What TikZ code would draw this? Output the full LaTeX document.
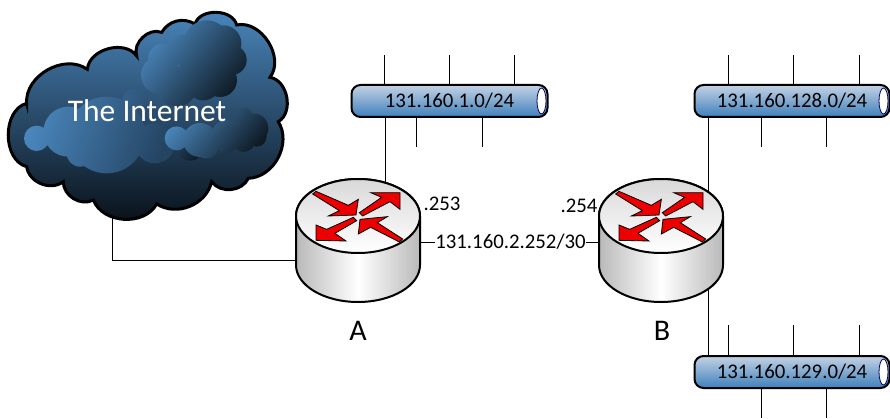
\documentclass[tikz,border=0pt]{standalone}
\usepackage{fontspec}
\setmainfont{Carlito}
\definecolor{cloudblue}{RGB}{74,134,188}
\definecolor{clouddark}{RGB}{8,15,22}
\definecolor{puffdark}{RGB}{14,26,36}
\definecolor{pufffade}{RGB}{36,68,98}
\definecolor{bustop}{RGB}{196,210,228}
\definecolor{busbot}{RGB}{62,128,188}
\definecolor{arrowred}{RGB}{236,0,0}

\newcommand{\routerdraw}[1]{
  \begin{scope}[shift={(#1)}]
    \shade[router side] (-62,-24) -- (-62,25) arc[start angle=180,end angle=360,x radius=62pt,y radius=37pt]
      -- (62,-24) arc[start angle=0,end angle=180,x radius=62pt,y radius=37pt] -- cycle;
    \shade[router top] (0,-24) circle[x radius=62pt,y radius=37pt];
    \begin{scope}[shift={(-78,-70)},scale=1/3]
      \draw[router arrow] (108,64) -- (98,72) -- (178,122) -- (145,138) -- (228,135) -- (235,88) -- (205,106) -- cycle;
      \draw[router arrow] (238,128) -- (248,138) -- (330,95) -- (360,118) -- (360,68) -- (272,68) -- (305,82) -- cycle;
      \draw[router arrow] (220,142) -- (230,152) -- (165,190) -- (198,213) -- (108,211) -- (108,165) -- (140,178) -- cycle;
      \draw[router arrow] (368,207) -- (358,216) -- (272,172) -- (235,192) -- (240,148) -- (322,140) -- (292,158) -- cycle;
    \end{scope}
  \end{scope}
}

\tikzset{
  router node/.style={minimum width=124pt,minimum height=124pt,inner sep=0pt},
  router side/.style={left color=gray!55,right color=gray!55,middle color=white,draw=black,line width=2pt},
  router top/.style={top color=gray!30,bottom color=white,draw=black,line width=2pt},
  router arrow/.style={fill=arrowred,draw=black,line width=.8pt},
  bus node/.style={rectangle,rounded corners=9pt,draw=black,line width=2pt,top color=bustop,bottom color=busbot,
    minimum height=32pt,inner sep=0pt,font=\fontsize{20.8}{22}\selectfont},
  bus end/.style={draw=blue!35!black,fill=white,line width=.8pt},
  link/.style={draw=black,line width=.8pt},
  label/.style={inner sep=0pt,font=\fontsize{20.8}{22}\selectfont},
  puff/.style={top color=cloudblue,bottom color=puffdark,shading angle=50}
}

\begin{document}
\begin{tikzpicture}[x=1pt,y=-1pt]
  \useasboundingbox (0,0) rectangle (890,419);

  % cloud
  \begin{scope}[scale=1/3]
    \shade[top color=cloudblue,bottom color=clouddark,draw=black,line width=3pt,looseness=1.03]
      (80,310) to[bend left=65] (262,208) to[bend left=70] (410,168) to[bend left=65] (485,97)
      to[bend left=45] (585,72) to[bend left=75] (710,75) to[bend left=70] (810,232)
      to[bend left=70] (835,365) to[bend left=60] (745,535) to[bend left=60] (635,545)
      to[bend left=55] (470,612) to[bend left=65] (280,600) to[bend left=60] (190,545)
      to[bend left=60] (80,500) to[bend left=75] cycle;
    % puffs inside the cloud
    \shade[top color=cloudblue,bottom color=pufffade,shading angle=70]
      (110,415) circle[radius=38pt] (205,395) circle[radius=75pt] (320,405) circle[radius=115pt]
      (400,300) circle[radius=33pt] (240,460) circle[radius=40pt] (465,430) circle[radius=60pt];
    \shade[top color=pufffade,bottom color=puffdark,shading angle=50]
      (570,440) circle[radius=42pt];
    \shade[puff] (480,225) circle[radius=57pt] (490,175) circle[radius=45pt] (545,150) circle[radius=45pt]
      (620,130) circle[radius=69pt] (670,130) circle[radius=54pt] (695,180) circle[radius=45pt]
      (660,240) circle[radius=51pt] (610,250) circle[radius=51pt] (530,260) circle[radius=60pt]
      (620,190) circle[radius=81pt];
    \shade[puff] (530,415) circle[radius=36pt] (600,420) circle[radius=51pt] (620,440) circle[radius=36pt]
      (680,405) circle[radius=45pt] (730,350) circle[radius=27pt] (760,385) circle[radius=45pt]
      (730,420) circle[radius=36pt] (770,410) circle[radius=30pt] (680,430) circle[radius=30pt];
  \end{scope}
  \node[label,text=white,font=\fontsize{31.5}{33}\selectfont] (internet) at (147,111) {The Internet};
  \coordinate (foot) at (112,217);

  % routers
  \node[router node] (A) at (358,240) {};
  \node[router node] (B) at (661,240) {};

  % networks
  \node[bus node,minimum width=196pt] (net1) at (449.5,101) {131.160.1.0/24};
  \node[bus node,minimum width=195pt] (net2) at (792,101) {131.160.128.0/24};
  \node[bus node,minimum width=195pt] (net3) at (792,372) {131.160.129.0/24};
  \foreach \n in {net1,net2,net3}
    \draw[bus end] ([xshift=-7pt]\n.east) circle[x radius=4.5pt,y radius=13pt];

  % stubs on the buses
  \foreach \x in {384,449,514}
    \draw[link] (net1.north -| \x,0) -- (\x,55);
  \foreach \x in {416,482}
    \draw[link] (net1.south -| \x,0) -- (\x,147);
  \foreach \x in {728,793,859} {
    \draw[link] (net2.north -| \x,0) -- (\x,55);
    \draw[link] (net3.north -| \x,0) -- (\x,325);
  }
  \foreach \x in {761,826} {
    \draw[link] (net2.south -| \x,0) -- (\x,147);
    \draw[link] (net3.south -| \x,0) -- (\x,418);
  }

  % links between routers, cloud and buses
  \coordinate (Ain) at (298,260);
  \draw[link] (foot) |- (Ain);
  \draw[link] (net1.south -| 385,0) -- (385,190);
  \draw[link] (net2.south -| 708,0) -- (708,195);
  \draw[link] (708,290) -- (net3.north -| 708,0);
  \node[label] (wan) at (510.5,242) {131.160.2.252/30};
  \draw[link] (A.east |- wan) -- (wan.west);
  \draw[link] (wan.east) -- (B.west |- wan);

  \routerdraw{A}
  \routerdraw{B}

  \node[label] (hostA) at (442,204) {.253};
  \node[label] (hostB) at (579,206) {.254};
  \node[label,font=\fontsize{30}{32}\selectfont] (nameA) at (358,331) {A};
  \node[label,font=\fontsize{30}{32}\selectfont] (nameB) at (662,331) {B};
\end{tikzpicture}
\end{document}
